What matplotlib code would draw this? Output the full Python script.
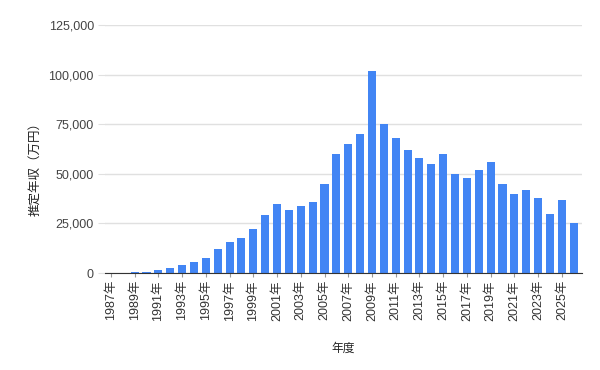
import matplotlib
matplotlib.use('Agg')
import matplotlib.pyplot as plt
from matplotlib.ticker import FuncFormatter

plt.rcParams['font.family'] = ['Liberation Sans', 'Noto Sans CJK JP', 'DejaVu Sans']

years = list(range(1987, 2027))
income = [0, 0, 500, 500, 1500, 2500, 4000, 5500, 7500, 12000,
          15500, 17500, 22000, 29500, 35000, 32000, 34000, 36000, 45000, 60000,
          65000, 70000, 102000, 75000, 68000, 62000, 58000, 55000, 60000, 50000,
          48000, 52000, 56000, 45000, 40000, 42000, 38000, 30000, 37000, 25000]
tick_labels = [f'{y}年' for y in years]

fig = plt.figure(figsize=(6, 3.7), dpi=100)
ax = fig.add_axes([0.175, 0.262, 0.795, 0.67])

x = list(range(len(years)))
ax.bar(x, income, width=0.68, color='#4285F4', zorder=3)

ax.set_xlim(-0.5, len(years) - 0.3)
ax.set_ylim(0, 125000)
ax.set_yticks([0, 25000, 50000, 75000, 100000, 125000])
ax.yaxis.set_major_formatter(FuncFormatter(lambda v, p: f'{int(v):,}'))
ax.grid(axis='y', color='#e0e0e0', linewidth=1, zorder=0)
ax.tick_params(axis='y', length=5, color='#e0e0e0', labelsize=9, labelcolor='#444444', pad=3)

ax.set_xticks(x[::2])
ax.set_xticklabels(tick_labels[::2], rotation=90, fontsize=9, color='#333333')
ax.tick_params(axis='x', length=3, color='#999999', pad=2)

for s in ['top', 'right', 'left']:
    ax.spines[s].set_visible(False)
ax.spines['bottom'].set_color('#333333')
ax.spines['bottom'].set_zorder(4)

ax.set_ylabel('推定年収（万円）', fontsize=9, color='#222222')
ax.yaxis.set_label_coords(-0.133, 0.43)
ax.set_xlabel('年度', fontsize=8.5, color='#222222')
ax.xaxis.set_label_coords(0.5, -0.282)

fig.savefig('out.png', dpi=100)
